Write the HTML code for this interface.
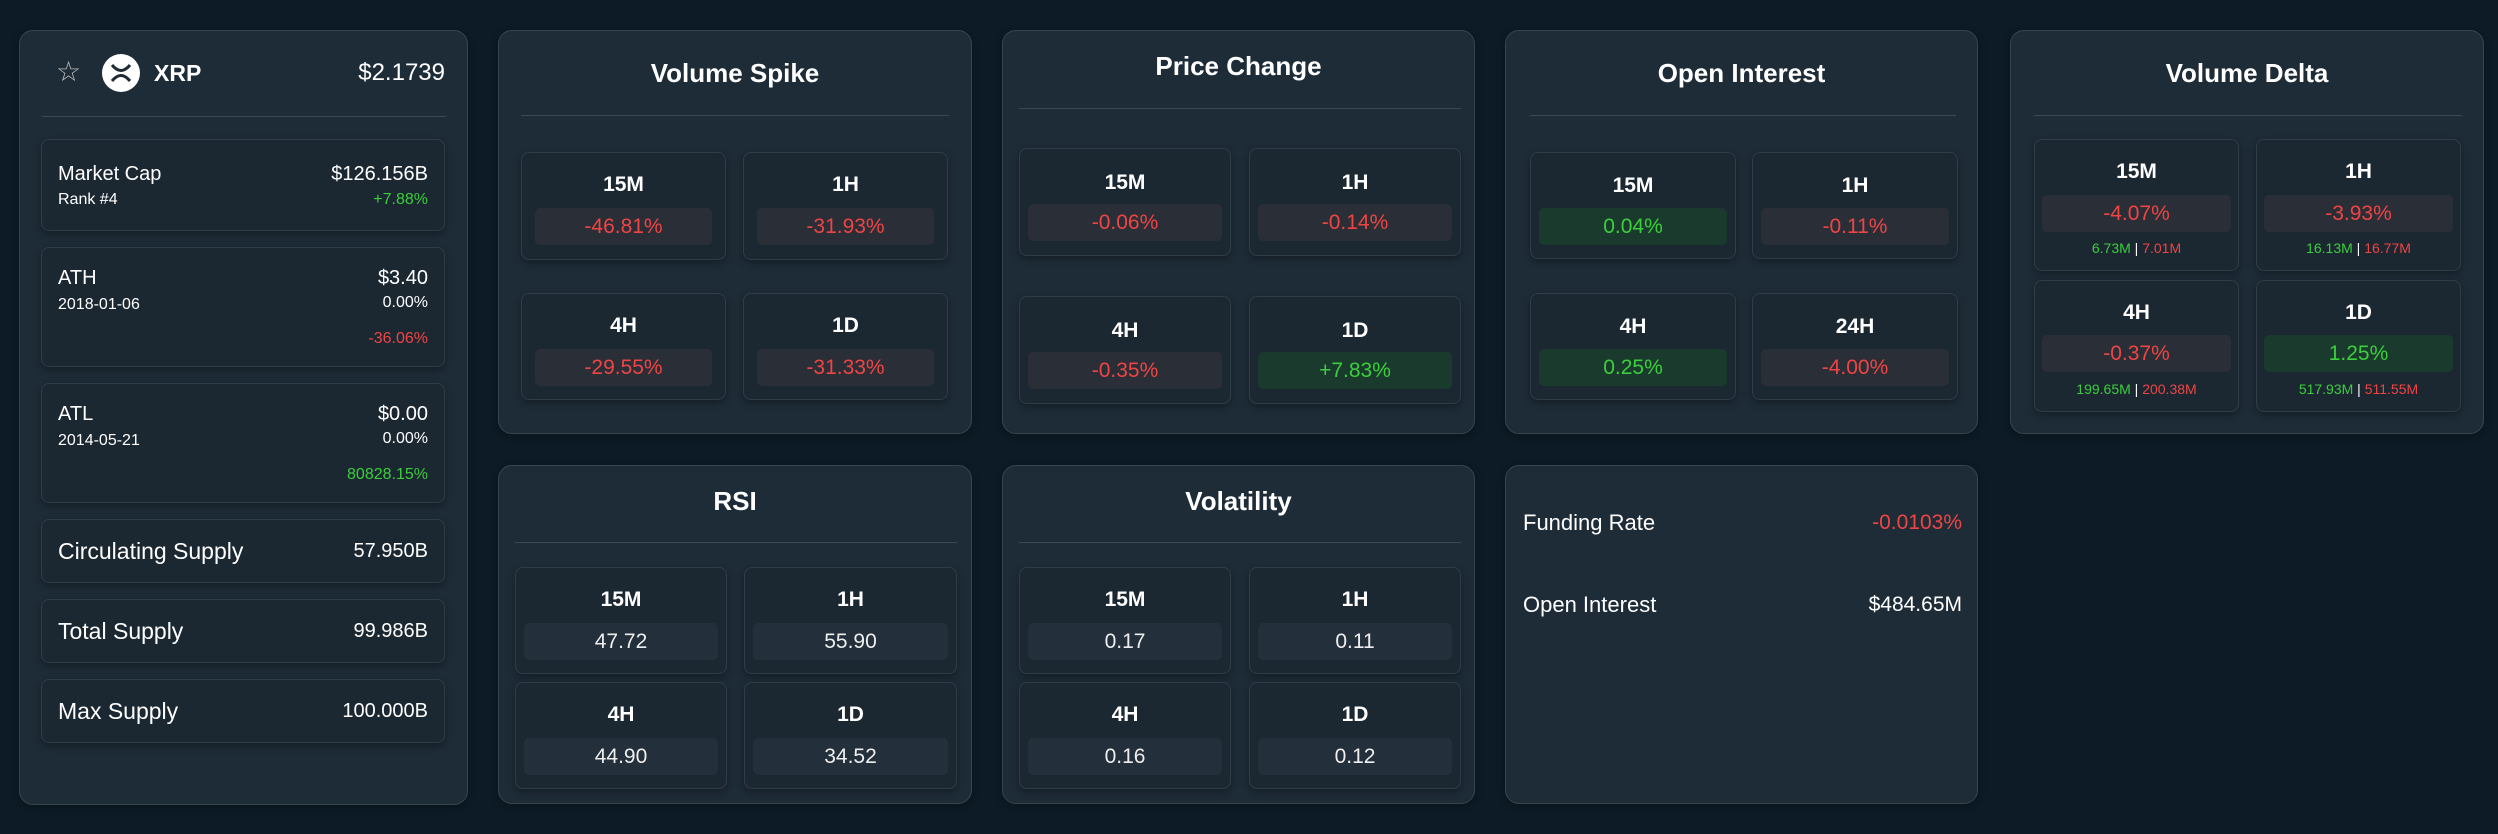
<!DOCTYPE html>
<html><head><meta charset="utf-8"><style>
*{box-sizing:border-box;margin:0;padding:0}
body{width:2498px;height:834px;background:#0d1b26;font-family:"Liberation Sans",sans-serif;color:#fff;position:relative;overflow:hidden}
.p{position:absolute;background:#1e2c38;border:1px solid #37454f;border-radius:14px;box-shadow:0 2px 8px rgba(0,0,0,.3)}
.a{position:absolute}
.t{position:absolute;left:0;right:0;text-align:center;font-weight:bold;font-size:26px;line-height:30px}
.hr{position:absolute;height:1px;background:#3e4850}
.c{position:absolute;background:#1b2731;border:1px solid #303d48;border-radius:8px;box-shadow:0 3px 8px rgba(0,0,0,.35)}
.c .l{position:absolute;left:0;right:0;text-align:center;font-weight:bold;font-size:21px;line-height:24px}
.c .v{position:absolute;left:13px;right:13px;height:37px;border-radius:5px;text-align:center;font-size:21px;line-height:37px}
.r{color:#f04444}.g{color:#3bcf3b}
.vr{background:#2a2e37}.vg{background:#1b3a2e}.vn{background:#232f3a;color:#eee}
.s{position:absolute;left:0;right:0;text-align:center;font-size:14px;line-height:16px}
.lc{position:absolute;left:41px;width:404px;background:#1b2731;border:1px solid #303d48;border-radius:8px;box-shadow:0 3px 8px rgba(0,0,0,.35)}
.lc .x{position:absolute;left:16px}.lc .y{position:absolute;right:16px;text-align:right}
</style></head><body>

<!-- LEFT -->
<div class="p" style="left:19px;top:30px;width:449px;height:775px">
  <div class="a" style="left:36px;top:26px;font-size:28px;color:#bbb;line-height:30px">☆</div>
  <div class="a" style="left:82px;top:23px;width:38px;height:38px;border-radius:50%;background:#fff">
    <svg width="38" height="38" viewBox="0 0 38 38"><path d="M10 11 Q19 22 28 11 M10 27 Q19 16 28 27" stroke="#1e2c38" stroke-width="3" fill="none"/></svg></div>
  <div class="a" style="left:134px;top:28px;font-size:23px;font-weight:bold;line-height:28px">XRP</div>
  <div class="a" style="right:22px;top:27px;font-size:24px;line-height:30px">$2.1739</div>
  <div class="hr" style="left:22px;width:404px;top:85px"></div>
</div>
<div class="lc" style="top:139px;height:92px">
  <div class="x" style="top:23px;font-size:20px">Market Cap</div>
  <div class="x" style="top:51px;font-size:16px">Rank #4</div>
  <div class="y" style="top:23px;font-size:20px">$126.156B</div>
  <div class="y g" style="top:51px;font-size:16px">+7.88%</div>
</div>
<div class="lc" style="top:247px;height:120px">
  <div class="x" style="top:19px;font-size:20px">ATH</div>
  <div class="x" style="top:48px;font-size:16px">2018-01-06</div>
  <div class="y" style="top:19px;font-size:20px">$3.40</div>
  <div class="y" style="top:46px;font-size:16px">0.00%</div>
  <div class="y r" style="top:82px;font-size:16px">-36.06%</div>
</div>
<div class="lc" style="top:383px;height:120px">
  <div class="x" style="top:19px;font-size:20px">ATL</div>
  <div class="x" style="top:48px;font-size:16px">2014-05-21</div>
  <div class="y" style="top:19px;font-size:20px">$0.00</div>
  <div class="y" style="top:46px;font-size:16px">0.00%</div>
  <div class="y g" style="top:82px;font-size:16px">80828.15%</div>
</div>
<div class="lc" style="top:519px;height:64px">
  <div class="x" style="top:18px;font-size:23px">Circulating Supply</div>
  <div class="y" style="top:20px;font-size:20px">57.950B</div>
</div>
<div class="lc" style="top:599px;height:64px">
  <div class="x" style="top:18px;font-size:23px">Total Supply</div>
  <div class="y" style="top:20px;font-size:20px">99.986B</div>
</div>
<div class="lc" style="top:679px;height:64px">
  <div class="x" style="top:18px;font-size:23px">Max Supply</div>
  <div class="y" style="top:20px;font-size:20px">100.000B</div>
</div>

<!-- VOLUME SPIKE -->
<div class="p" style="left:498px;top:30px;width:474px;height:404px">
  <div class="t" style="top:27px">Volume Spike</div>
  <div class="hr" style="left:22px;width:428px;top:84px"></div>
  <div class="c" style="left:22px;top:121px;width:205px;height:108px"><div class="l" style="top:20px">15M</div><div class="v vr r" style="top:55px">-46.81%</div></div>
  <div class="c" style="left:244px;top:121px;width:205px;height:108px"><div class="l" style="top:20px">1H</div><div class="v vr r" style="top:55px">-31.93%</div></div>
  <div class="c" style="left:22px;top:262px;width:205px;height:107px"><div class="l" style="top:20px">4H</div><div class="v vr r" style="top:55px">-29.55%</div></div>
  <div class="c" style="left:244px;top:262px;width:205px;height:107px"><div class="l" style="top:20px">1D</div><div class="v vr r" style="top:55px">-31.33%</div></div>
</div>

<!-- PRICE CHANGE -->
<div class="p" style="left:1002px;top:30px;width:473px;height:404px">
  <div class="t" style="top:20px">Price Change</div>
  <div class="hr" style="left:16px;width:442px;top:77px"></div>
  <div class="c" style="left:16px;top:117px;width:212px;height:108px"><div class="l" style="top:22px">15M</div><div class="v vr r" style="top:55px;left:8px;right:8px">-0.06%</div></div>
  <div class="c" style="left:246px;top:117px;width:212px;height:108px"><div class="l" style="top:22px">1H</div><div class="v vr r" style="top:55px;left:8px;right:8px">-0.14%</div></div>
  <div class="c" style="left:16px;top:265px;width:212px;height:108px"><div class="l" style="top:22px">4H</div><div class="v vr r" style="top:55px;left:8px;right:8px">-0.35%</div></div>
  <div class="c" style="left:246px;top:265px;width:212px;height:108px"><div class="l" style="top:22px">1D</div><div class="v vg g" style="top:55px;left:8px;right:8px">+7.83%</div></div>
</div>

<!-- OPEN INTEREST -->
<div class="p" style="left:1505px;top:30px;width:473px;height:404px">
  <div class="t" style="top:27px">Open Interest</div>
  <div class="hr" style="left:24px;width:426px;top:84px"></div>
  <div class="c" style="left:24px;top:121px;width:206px;height:107px"><div class="l" style="top:21px">15M</div><div class="v vg g" style="top:55px;left:8px;right:8px">0.04%</div></div>
  <div class="c" style="left:246px;top:121px;width:206px;height:107px"><div class="l" style="top:21px">1H</div><div class="v vr r" style="top:55px;left:8px;right:8px">-0.11%</div></div>
  <div class="c" style="left:24px;top:262px;width:206px;height:107px"><div class="l" style="top:21px">4H</div><div class="v vg g" style="top:55px;left:8px;right:8px">0.25%</div></div>
  <div class="c" style="left:246px;top:262px;width:206px;height:107px"><div class="l" style="top:21px">24H</div><div class="v vr r" style="top:55px;left:8px;right:8px">-4.00%</div></div>
</div>

<!-- VOLUME DELTA -->
<div class="p" style="left:2010px;top:30px;width:474px;height:404px">
  <div class="t" style="top:27px">Volume Delta</div>
  <div class="hr" style="left:23px;width:428px;top:84px"></div>
  <div class="c" style="left:23px;top:108px;width:205px;height:132px"><div class="l" style="top:20px">15M</div><div class="v vr r" style="top:55px;left:7px;right:7px">-4.07%</div><div class="s" style="top:100px"><span class="g">6.73M</span> | <span class="r">7.01M</span></div></div>
  <div class="c" style="left:245px;top:108px;width:205px;height:132px"><div class="l" style="top:20px">1H</div><div class="v vr r" style="top:55px;left:7px;right:7px">-3.93%</div><div class="s" style="top:100px"><span class="g">16.13M</span> | <span class="r">16.77M</span></div></div>
  <div class="c" style="left:23px;top:249px;width:205px;height:132px"><div class="l" style="top:20px">4H</div><div class="v vr r" style="top:54px;left:7px;right:7px">-0.37%</div><div class="s" style="top:100px"><span class="g">199.65M</span> | <span class="r">200.38M</span></div></div>
  <div class="c" style="left:245px;top:249px;width:205px;height:132px"><div class="l" style="top:20px">1D</div><div class="v vg g" style="top:54px;left:7px;right:7px">1.25%</div><div class="s" style="top:100px"><span class="g">517.93M</span> | <span class="r">511.55M</span></div></div>
</div>

<!-- RSI -->
<div class="p" style="left:498px;top:465px;width:474px;height:339px">
  <div class="t" style="top:20px">RSI</div>
  <div class="hr" style="left:16px;width:442px;top:76px"></div>
  <div class="c" style="left:16px;top:101px;width:212px;height:107px"><div class="l" style="top:20px">15M</div><div class="v vn" style="top:55px;left:8px;right:8px">47.72</div></div>
  <div class="c" style="left:245px;top:101px;width:213px;height:107px"><div class="l" style="top:20px">1H</div><div class="v vn" style="top:55px;left:8px;right:8px">55.90</div></div>
  <div class="c" style="left:16px;top:216px;width:212px;height:107px"><div class="l" style="top:20px">4H</div><div class="v vn" style="top:55px;left:8px;right:8px">44.90</div></div>
  <div class="c" style="left:245px;top:216px;width:213px;height:107px"><div class="l" style="top:20px">1D</div><div class="v vn" style="top:55px;left:8px;right:8px">34.52</div></div>
</div>

<!-- VOLATILITY -->
<div class="p" style="left:1002px;top:465px;width:473px;height:339px">
  <div class="t" style="top:20px">Volatility</div>
  <div class="hr" style="left:16px;width:442px;top:76px"></div>
  <div class="c" style="left:16px;top:101px;width:212px;height:107px"><div class="l" style="top:20px">15M</div><div class="v vn" style="top:55px;left:8px;right:8px">0.17</div></div>
  <div class="c" style="left:246px;top:101px;width:212px;height:107px"><div class="l" style="top:20px">1H</div><div class="v vn" style="top:55px;left:8px;right:8px">0.11</div></div>
  <div class="c" style="left:16px;top:216px;width:212px;height:107px"><div class="l" style="top:20px">4H</div><div class="v vn" style="top:55px;left:8px;right:8px">0.16</div></div>
  <div class="c" style="left:246px;top:216px;width:212px;height:107px"><div class="l" style="top:20px">1D</div><div class="v vn" style="top:55px;left:8px;right:8px">0.12</div></div>
</div>

<!-- FUNDING -->
<div class="p" style="left:1505px;top:465px;width:473px;height:339px">
  <div class="a" style="left:17px;top:44px;font-size:22px;line-height:26px">Funding Rate</div>
  <div class="a r" style="right:15px;top:44px;font-size:21px;line-height:26px">-0.0103%</div>
  <div class="a" style="left:17px;top:126px;font-size:22px;line-height:26px">Open Interest</div>
  <div class="a" style="right:15px;top:126px;font-size:21px;line-height:26px">$484.65M</div>
</div>

</body></html>
